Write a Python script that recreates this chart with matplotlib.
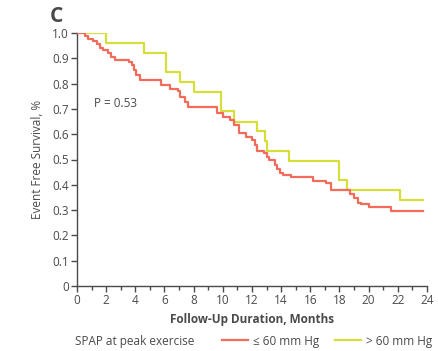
import matplotlib.pyplot as plt
from matplotlib.lines import Line2D

# Kaplan-Meier curves, event-free survival by SPAP at peak exercise
months_low = [0, 0.55, 0.77, 1.1, 1.35, 1.6, 1.8, 2.1, 2.3, 2.6, 3.55, 3.75, 3.9, 4.05, 4.3,
              5.75, 6.4, 6.9, 7.05, 7.4, 7.6, 9.45, 9.6, 10.0, 10.5, 10.8, 11.1, 11.6, 12.0,
              12.2, 12.35, 12.8, 13.0, 13.2, 13.55, 13.7, 13.9, 14.15, 14.7, 16.15, 17.1,
              17.4, 18.75, 19.0, 19.3, 19.5, 20.0, 21.5, 23.7]
surv_low = [1.0, 0.99, 0.978, 0.97, 0.957, 0.942, 0.933, 0.92, 0.906, 0.893, 0.887, 0.874,
            0.854, 0.834, 0.814, 0.794, 0.78, 0.77, 0.748, 0.728, 0.709, 0.709, 0.685, 0.669,
            0.656, 0.636, 0.603, 0.59, 0.577, 0.557, 0.535, 0.524, 0.51, 0.498, 0.478, 0.461,
            0.448, 0.439, 0.432, 0.416, 0.406, 0.379, 0.363, 0.347, 0.33, 0.324, 0.311,
            0.298, 0.298]

months_high = [0, 2.0, 4.6, 6.1, 7.05, 8.05, 9.85, 10.8, 12.35, 12.9, 13.05, 14.55, 18.0,
               18.5, 22.15, 23.7]
surv_high = [1.0, 0.96, 0.92, 0.845, 0.805, 0.768, 0.69, 0.65, 0.612, 0.574, 0.535, 0.495,
             0.419, 0.379, 0.34, 0.34]

p_text = "P = 0.53"
red = "#F26B5B"
yellow = "#D6DE3A"
grey = "#4a4a4a"

plt.rcParams['font.family'] = ['Open Sans', 'DejaVu Sans']

fig = plt.figure(figsize=(4.39, 3.51), dpi=100)
ax = fig.add_axes([77/439, 1 - 286/351, 350/439, 253/351])

ax.step(months_high, surv_high, where='post', color=yellow, lw=1.6, zorder=2)
ax.step(months_low, surv_low, where='post', color=red, lw=1.6, zorder=3)

ax.set_xlim(0, 24)
ax.set_ylim(0, 1.0)
ax.set_xticks(range(0, 25, 2))
ax.set_xticks(range(0, 25, 1), minor=True)
ax.set_yticks([i / 10 for i in range(11)])
ax.set_yticklabels(["0"] + [f"{i/10:.1f}" for i in range(1, 11)])

for side in ("top", "right"):
    ax.spines[side].set_visible(False)
for side in ("left", "bottom"):
    ax.spines[side].set_color(grey)
    ax.spines[side].set_linewidth(1.0)
    ax.spines[side].set_clip_on(False)

ax.tick_params(axis="both", which="major", direction="out", length=4, width=1.0,
               color=grey, labelcolor=grey, labelsize=8.5, pad=2)
ax.tick_params(axis="x", which="minor", direction="out", length=3, width=1.0, color=grey)

ax.set_xlabel("Follow-Up Duration, Months", fontsize=8.5, fontweight="bold",
              color=grey, labelpad=4)
ax.set_ylabel("Event Free Survival, %", fontsize=8.5, color=grey, labelpad=6)

ax.text(1.17, 0.72, p_text, fontsize=8.5, color=grey, va="center", ha="left")

fig.text(50/439, 1 - 16/351, "C", fontsize=15, fontweight="bold", color=grey,
         va="center", ha="left")

# legend row underneath the axis title
fig.text(75/439, 1 - 341/351, "SPAP at peak exercise", fontsize=8.5, color=grey,
         va="center", ha="left")
handles = [Line2D([], [], color=red, lw=1.6), Line2D([], [], color=yellow, lw=1.6)]
fig.legend(handles, ["≤ 60 mm Hg", "> 60 mm Hg"], ncol=2, frameon=False,
           loc="center left", bbox_to_anchor=(222/439, 1 - 341/351),
           fontsize=8.5, labelcolor=grey, handlelength=2.2, handletextpad=0.4,
           columnspacing=1.4, borderaxespad=0, borderpad=0)

fig.savefig("out.png", dpi=100)
